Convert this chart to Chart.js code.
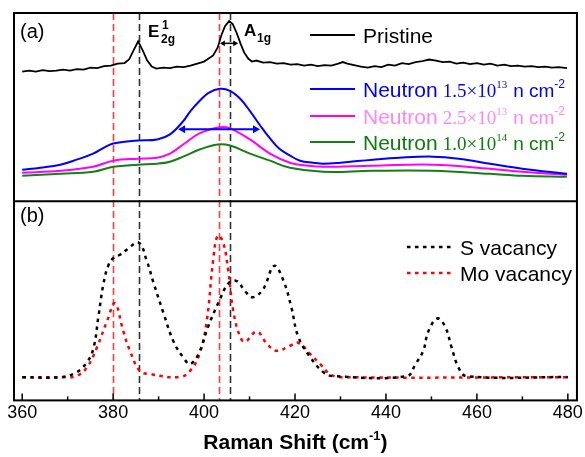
<!DOCTYPE html>
<html lang="en">
<head>
  <meta charset="UTF-8">
  <title>Raman spectra</title>
  <script src="https://cdn.jsdelivr.net/npm/chart.js"></script>
  <style>
    html, body { margin: 0; padding: 0; background: #fff; }
  </style>
</head>
<body>
  <canvas id="raman" width="585" height="457"></canvas>

  <script>
    // Raman shift (cm-1), intensity (a.u.) pairs
    const pristine = [
      [360,128],[361.5,129],[363,128],[364.5,129.5],[366,128.5],[367.5,129],[369,130],[370.5,129],
      [372,130.5],[373.5,130],[375,132],[376.5,131.5],[378,133.5],[379.5,134],[381,136],[382.5,136.5],
      [383.5,140],[384.5,149],[385.5,158],[386.5,149],[387.5,139],[388.5,133],[389.5,131],[391,132],
      [392.5,131.5],[394,133],[395.5,132.5],[397,134],[398.5,136],[400,138],[401,141],[402,144],
      [403,152],[403.8,164],[404.6,173],[405.5,178],[406.3,175],[407.2,166],[408,156],[408.8,147],
      [409.7,141],[410.5,138],[411.5,139],[413,137],[414.5,137.5],[416,136],[417.5,136.5],[419,135],
      [420.5,135.5],[422,134],[423.5,135],[425,133.5],[426.5,134.5],[428,134],[429.5,136],[430.5,137.5],
      [431.5,136],[433,134.5],[434.5,133],[436,132],[437.5,133.5],[439,132.5],[440.5,135],[442,134],
      [443.5,136.5],[445,135.5],[446.5,137.5],[448,138.5],[449.5,140],[451,139],[452.5,137.5],[454,138],
      [455.5,136],[457,137],[458.5,135.5],[460,136.5],[461.5,135],[463,136],[464.5,134],[466,135],
      [467.5,133.5],[469,134],[470.5,133],[472,133.5],[473.5,132.5],[475,133],[476.5,132],[478,132.5],
      [479.8,131.5]
    ];
    const neutron15 = [
      [360,31],[364,33],[368.4,36],[372,41],[375.6,47],[378,53],[380,57],[383,59],[385.5,60],
      [389.7,61],[392.5,66],[395.4,79],[397,89],[399,99],[401,107],[403.5,111],[405.7,109],[408,101],
      [410.1,89],[412.3,75],[414.5,62],[416.5,52],[418.9,45],[421.1,40],[424,38],[426.2,37],[430,38],
      [437.1,41],[443,43],[450.3,44],[456,42],[462.9,37],[470,32],[479.8,27]
    ];
    const neutron25 = [
      [360,28],[368.4,30],[375.6,34],[380,40],[385.5,42],[389.7,43],[392.5,47],[395.4,56],[399,67],
      [403.5,73],[405.7,72],[410.1,61],[414.5,47],[418.9,38],[423,35],[426.2,34],[437,35],[450.3,36],
      [462.9,32],[470,29],[479.8,26]
    ];
    const neutron100 = [
      [360,25],[368.4,27],[375.6,29],[380,34],[385.5,36],[389.7,37],[392.5,39],[395.4,44],[399,51],
      [403,56],[405.7,55],[410.1,47],[414.5,40],[418.9,33],[426.2,29],[437,30],[450.3,30],[462.9,27],
      [470,25],[479.8,24]
    ];
    const sVacancy = [
      [360,23],[368.4,23],[372,28],[374.3,38],[375.7,52],[376.8,84],[377.9,116],[379,134],[380.1,141],
      [381.5,144],[383,149],[385.6,156],[387.4,138],[388.9,116],[391.1,86],[393.3,58],[395.5,42],
      [396.9,36],[398.8,46],[400.9,73],[403.1,96],[405.4,116],[407.2,118],[409,108],[410.7,102],
      [413,110],[415.4,133],[417.4,119],[419.2,92],[420.7,63],[423.3,43],[426.2,28],[428.4,24],
      [444.6,24],[446.5,36],[448.2,49],[449.3,68],[451.3,81],[453,73],[454.4,53],[455.9,33],[457.7,24],
      [480,23]
    ];
    const moVacancy = [
      [360,23],[370,23],[372,24],[374.3,33],[376.5,53],[378.7,79],[380.4,96],[382.2,69],[383.7,49],
      [385.9,29],[388.1,26],[394.7,23],[396.9,29],[399,46],[400.6,79],[402,139],[403,163],[404.2,156],
      [405.3,129],[406.4,89],[407.9,63],[409,58],[411.6,68],[413.8,56],[416,49],[418.9,54],[420.7,57],
      [423.3,46],[425.5,36],[427.7,26],[430,23],[480,23]
    ];

    // vertical guide lines (mode positions)
    const modeLines = [380.0, 385.7, 403.3, 405.6];
    const modeColors = ['#ff3b3b', '#333333', '#ff3b3b', '#333333'];
    // FWHM arrows: [from, to, intensity]
    const fwhmArrow = [394.3, 412.3, 71];
    const shiftArrow = [403.5, 407.5, 156];

    const majorTicks = [360, 380, 400, 420, 440, 460, 480];
    const minorTicks = [370, 390, 410, 430, 450, 470];

    const SANS = '"Liberation Sans", Arial, sans-serif';
    const SERIF = '"Liberation Serif", "Times New Roman", serif';

    const pts = arr => arr.map(([x, y]) => ({x, y}));

    function rich(ctx, x, y, parts) {
      parts.forEach(p => {
        ctx.font = p.font;
        ctx.fillStyle = p.color || '#000';
        ctx.fillText(p.t, x, y + (p.dy || 0));
        x += ctx.measureText(p.t).width + (p.gap || 0);
      });
      return x;
    }

    function richWidth(ctx, parts) {
      let w = 0;
      parts.forEach(p => { ctx.font = p.font; w += ctx.measureText(p.t).width + (p.gap || 0); });
      return w;
    }

    function arrow(ctx, x1, x2, y, color, head, lw) {
      ctx.save();
      ctx.strokeStyle = color;
      ctx.fillStyle = color;
      ctx.lineWidth = lw;
      ctx.setLineDash([]);
      ctx.beginPath();
      ctx.moveTo(x1 + head, y);
      ctx.lineTo(x2 - head, y);
      ctx.stroke();
      ctx.beginPath();
      ctx.moveTo(x1, y); ctx.lineTo(x1 + head * 1.4, y - head * 0.8); ctx.lineTo(x1 + head * 1.4, y + head * 0.8);
      ctx.closePath(); ctx.fill();
      ctx.beginPath();
      ctx.moveTo(x2, y); ctx.lineTo(x2 - head * 1.4, y - head * 0.8); ctx.lineTo(x2 - head * 1.4, y + head * 0.8);
      ctx.closePath(); ctx.fill();
      ctx.restore();
    }

    const decor = {
      id: 'decor',
      beforeDatasetsDraw(chart) {
        const {ctx, chartArea: a, scales: {x}} = chart;
        ctx.save();
        ctx.lineWidth = 1.6;
        ctx.setLineDash([7, 4]);
        modeLines.forEach((v, i) => {
          const px = Math.round(x.getPixelForValue(v)) + 0.5;
          ctx.strokeStyle = modeColors[i];
          ctx.beginPath();
          ctx.moveTo(px, a.top);
          ctx.lineTo(px, a.bottom);
          ctx.stroke();
        });
        ctx.restore();
      },
      afterDraw(chart) {
        const {ctx, chartArea: a, scales: {x, yA, yB}} = chart;
        ctx.save();

        // frames of the two panels
        ctx.strokeStyle = '#000';
        ctx.lineWidth = 2;
        ctx.strokeRect(a.left, a.top, a.right - a.left, a.bottom - a.top);
        ctx.beginPath();
        ctx.moveTo(a.left, yA.bottom);
        ctx.lineTo(a.right, yA.bottom);
        ctx.stroke();

        // inward tick marks on the bottom axis
        ctx.lineWidth = 1.5;
        majorTicks.forEach(v => {
          const px = x.getPixelForValue(v);
          ctx.beginPath(); ctx.moveTo(px, a.bottom); ctx.lineTo(px, a.bottom - 7); ctx.stroke();
        });
        minorTicks.forEach(v => {
          const px = x.getPixelForValue(v);
          ctx.beginPath(); ctx.moveTo(px, a.bottom); ctx.lineTo(px, a.bottom - 4); ctx.stroke();
        });

        // arrows
        arrow(ctx, x.getPixelForValue(fwhmArrow[0]), x.getPixelForValue(fwhmArrow[1]),
              yA.getPixelForValue(fwhmArrow[2]), '#0000ff', 5, 2);
        arrow(ctx, x.getPixelForValue(shiftArrow[0]), x.getPixelForValue(shiftArrow[1]),
              yA.getPixelForValue(shiftArrow[2]), '#000', 3.5, 1.5);

        // panel labels
        ctx.textBaseline = 'alphabetic';
        ctx.textAlign = 'left';
        rich(ctx, 20, 38, [{t: '(a)', font: '20px ' + SANS}]);
        rich(ctx, 20, 222, [{t: '(b)', font: '20px ' + SANS}]);

        // mode labels
        rich(ctx, 148, 37, [{t: 'E', font: 'bold 17px ' + SANS}]);
        rich(ctx, 162, 29, [{t: '1', font: 'bold 12px ' + SANS}]);
        rich(ctx, 161, 43, [{t: '2g', font: 'bold 12px ' + SANS}]);
        rich(ctx, 244, 36, [{t: 'A', font: 'bold 17px ' + SANS}]);
        rich(ctx, 257, 42, [{t: '1g', font: 'bold 12px ' + SANS}]);

        // legend, panel (a)
        const legA = [
          {y: 35, color: '#000', text: '#000', label: 'Pristine'},
          {y: 89, color: '#0000ff', text: '#0000ff', num: '1.5×10', exp: '13'},
          {y: 116, color: '#ff00ff', text: '#ff88ee', num: '2.5×10', exp: '13'},
          {y: 142, color: '#128012', text: '#0a7d0a', num: '1.0×10', exp: '14'}
        ];
        legA.forEach(r => {
          ctx.strokeStyle = r.color;
          ctx.lineWidth = 2;
          ctx.setLineDash([]);
          ctx.beginPath(); ctx.moveTo(310, r.y); ctx.lineTo(355, r.y); ctx.stroke();
          if (r.label) {
            rich(ctx, 363, r.y + 8, [{t: r.label, font: '21px ' + SANS, color: r.text}]);
          } else {
            rich(ctx, 363, r.y + 8, [
              {t: 'Neutron', font: '21px ' + SANS, color: r.text, gap: 5},
              {t: r.num, font: '19px ' + SERIF, color: r.text},
              {t: r.exp, font: '11px ' + SERIF, color: r.text, dy: -9, gap: 6},
              {t: 'n cm', font: '19px ' + SANS, color: r.text},
              {t: '-2', font: '12px ' + SANS, color: r.text, dy: -9}
            ]);
          }
        });

        // legend, panel (b)
        const legB = [
          {y: 247, color: '#000', label: 'S vacancy'},
          {y: 273, color: '#ff0000', label: 'Mo vacancy'}
        ];
        legB.forEach(r => {
          ctx.strokeStyle = r.color;
          ctx.lineWidth = 2.5;
          ctx.setLineDash([3.5, 4.5]);
          ctx.beginPath(); ctx.moveTo(407, r.y); ctx.lineTo(455, r.y); ctx.stroke();
          ctx.setLineDash([]);
          rich(ctx, 460, r.y + 8, [{t: r.label, font: '21px ' + SANS, color: '#000'}]);
        });

        // axis title with superscript
        const title = [
          {t: 'Raman Shift (cm', font: 'bold 21px ' + SANS},
          {t: '-1', font: 'bold 13px ' + SANS, dy: -9},
          {t: ')', font: 'bold 21px ' + SANS}
        ];
        const tw = richWidth(ctx, title);
        rich(ctx, (a.left + a.right) / 2 - tw / 2, 449, title);

        ctx.restore();
      }
    };

    const line = (data, color, yAxisID, extra) => Object.assign({
      data: pts(data), yAxisID, borderColor: color, borderWidth: 2,
      pointRadius: 0, fill: false, tension: 0.4
    }, extra || {});

    new Chart(document.getElementById('raman'), {
      type: 'line',
      data: {
        datasets: [
          line(pristine, '#000', 'yA', {tension: 0, borderWidth: 1.8}),
          line(neutron15, '#0000ff', 'yA'),
          line(neutron25, '#ff00ff', 'yA'),
          line(neutron100, '#128012', 'yA'),
          line(sVacancy, '#000', 'yB', {borderDash: [3.5, 4.5], borderWidth: 2.5}),
          line(moVacancy, '#ff0000', 'yB', {borderDash: [3.5, 4.5], borderWidth: 2.5})
        ]
      },
      options: {
        responsive: false,
        animation: false,
        layout: {padding: {left: 14, right: 8, top: 13, bottom: 31}},
        plugins: {legend: {display: false}, tooltip: {enabled: false}},
        scales: {
          x: {
            type: 'linear', min: 358.2, max: 482,
            afterBuildTicks: axis => { axis.ticks = majorTicks.map(v => ({value: v})); },
            ticks: {padding: 2, color: '#000', font: {family: SANS, size: 18}},
            grid: {display: false, drawTicks: false},
            border: {display: false}
          },
          yA: {
            type: 'linear', position: 'left', stack: 'panels', stackWeight: 186, weight: 2,
            min: 0, max: 186,
            ticks: {display: false}, grid: {display: false, drawTicks: false}, border: {display: false}
          },
          yB: {
            type: 'linear', position: 'left', stack: 'panels', stackWeight: 197, weight: 1,
            min: 0, max: 197,
            ticks: {display: false}, grid: {display: false, drawTicks: false}, border: {display: false}
          }
        }
      },
      plugins: [decor]
    });
  </script>
</body>
</html>
